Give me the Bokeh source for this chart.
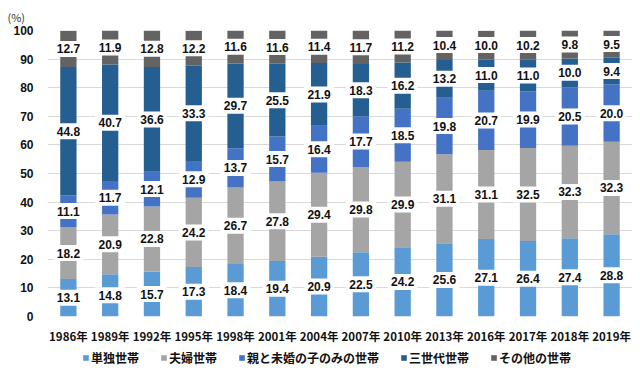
from bokeh.plotting import figure
from bokeh.models import FactorRange, Range1d, FixedTicker, Legend, LegendItem, ColumnDataSource
from bokeh.layouts import column
from bokeh.core.properties import value
from bokeh.embed import file_html
from bokeh.resources import INLINE
import numpy as np

years = ["1986年", "1989年", "1992年", "1995年", "1998年", "2001年", "2004年",
         "2007年", "2010年", "2013年", "2016年", "2017年", "2018年", "2019年"]
series_names = ["単独世帯", "夫婦世帯", "親と未婚の子のみの世帯", "三世代世帯", "その他の世帯"]
tandoku = [13.1, 14.8, 15.7, 17.3, 18.4, 19.4, 20.9, 22.5, 24.2, 25.6, 27.1, 26.4, 27.4, 28.8]
fufu = [18.2, 20.9, 22.8, 24.2, 26.7, 27.8, 29.4, 29.8, 29.9, 31.1, 31.1, 32.5, 32.3, 32.3]
oyako = [11.1, 11.7, 12.1, 12.9, 13.7, 15.7, 16.4, 17.7, 18.5, 19.8, 20.7, 19.9, 20.5, 20.0]
sansedai = [44.8, 40.7, 36.6, 33.3, 29.7, 25.5, 21.9, 18.3, 16.2, 13.2, 11.0, 11.0, 10.0, 9.4]
sonota = [12.7, 11.9, 12.8, 12.2, 11.6, 11.6, 11.4, 11.7, 11.2, 10.4, 10.0, 10.2, 9.8, 9.5]
y_ticks = [0, 10, 20, 30, 40, 50, 60, 70, 80, 90, 100]

colors = ["#5B9BD5", "#A5A5A5", "#4472C4", "#255E91", "#636363"]
NUMFONT = "Liberation Sans"
JPFONT = "Noto Sans CJK JP"
series = [tandoku, fufu, oyako, sansedai, sonota]
keys = ["s0", "s1", "s2", "s3", "s4"]

data = {"years": years}
for k, s in zip(keys, series):
    data[k] = s
source = ColumnDataSource(data)

p = figure(width=632, height=348, output_backend="svg", toolbar_location=None,
           x_range=FactorRange(*years, range_padding=0), y_range=Range1d(0, 100),
           min_border_left=47, min_border_right=0, min_border_top=26, min_border_bottom=32)
p.outline_line_color = None

renderers = p.vbar_stack(keys, x="years", width=0.39, color=colors, source=source, line_color=None)

# labels with white boxes at centres of segments
arr = np.array(series)
cum = np.cumsum(arr, axis=0)
centers = cum - arr / 2.0
lx, ly, lt = [], [], []
for i in range(len(series)):
    for j, yr in enumerate(years):
        lx.append(yr)
        ly.append(float(centers[i, j]))
        lt.append(f"{series[i][j]:.1f}")
lsrc = ColumnDataSource(dict(x=lx, y=ly, t=lt))
p.rect(x="x", y="y", width=30, height=16, width_units="screen", height_units="screen",
       source=lsrc, fill_color="white", line_color=None)
p.text(x="x", y="y", text="t", source=lsrc, text_align="center", text_baseline="middle",
       text_font=value(NUMFONT), text_font_size="12px", text_font_style="bold", text_color="#111111")

p.yaxis.ticker = FixedTicker(ticks=y_ticks)
p.yaxis.axis_line_color = None
p.yaxis.major_tick_line_color = None
p.yaxis.minor_tick_line_color = None
p.yaxis.major_label_standoff = 8
p.yaxis.major_label_text_font = NUMFONT
p.yaxis.major_label_text_font_size = "12px"
p.yaxis.major_label_text_font_style = "bold"
p.yaxis.major_label_text_color = "#111111"

p.xaxis.axis_line_color = None
p.xaxis.major_tick_line_color = None
p.xaxis.minor_tick_line_color = None
p.xaxis.major_label_standoff = 5
p.xaxis.major_label_text_font = JPFONT
p.xaxis.major_label_text_font_size = "11.5px"
p.xaxis.major_label_text_font_style = "bold"
p.xaxis.major_label_text_color = "#111111"

p.xgrid.grid_line_color = None
p.ygrid.grid_line_color = "#D9D9D9"
p.ygrid.grid_line_width = 1

p.title.text = "(%)"
p.title.align = "left"
p.title.offset = -40
p.title.standoff = 12
p.title.text_font = JPFONT
p.title.text_font_size = "11px"
p.title.text_font_style = "normal"
p.title.text_color = "#333333"

# legend figure (bars drawn from the same data, but outside its visible y range)
lg = figure(width=632, height=18, output_backend="svg", toolbar_location=None,
            x_range=FactorRange(*years, range_padding=0), y_range=Range1d(200, 300),
            min_border_left=0, min_border_right=0, min_border_top=0, min_border_bottom=0)
lg.axis.visible = False
lg.grid.visible = False
lg.outline_line_color = None
lrs = lg.vbar_stack(keys, x="years", width=0.39, color=colors, source=source, line_color=None)
legend = Legend(items=[LegendItem(label=n, renderers=[r]) for n, r in zip(series_names, lrs)],
                orientation="horizontal", location=(35, 0))
legend.glyph_width = 7
legend.glyph_height = 7
legend.label_standoff = 2
legend.spacing = 21
legend.padding = 0
legend.margin = 0
legend.label_height = 14
legend.label_text_font = JPFONT
legend.label_text_font_size = "12px"
legend.label_text_font_style = "bold"
legend.label_text_color = "#111111"
legend.border_line_color = None
legend.background_fill_alpha = 0
lg.add_layout(legend, "center")

layout = column(p, lg, spacing=0)
open("out.html", "w").write(file_html(layout, INLINE))
